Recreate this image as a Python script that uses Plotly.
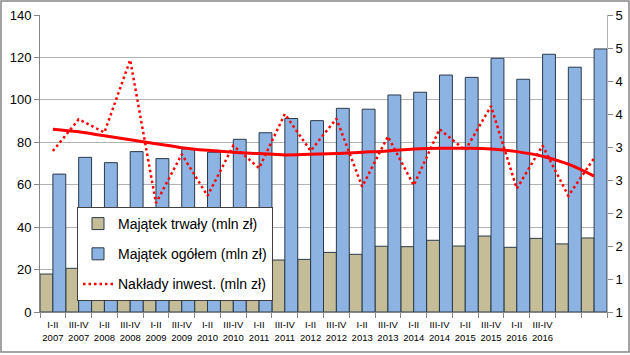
import plotly.graph_objects as go

# ---- data ----
periods = ["I-II<br>2007", "III-IV<br>2007", "I-II<br>2008", "III-IV<br>2008",
           "I-II<br>2009", "III-IV<br>2009", "I-II<br>2010", "III-IV<br>2010",
           "I-II<br>2011", "III-IV<br>2011", "I-II<br>2012", "III-IV<br>2012",
           "I-II<br>2013", "III-IV<br>2013", "I-II<br>2014", "III-IV<br>2014",
           "I-II<br>2015", "III-IV<br>2015", "I-II<br>2016", "III-IV<br>2016",
           "I-II<br>2017", "III-IV<br>2017"]
tick_text = periods[:20] + ["", ""]

majatek_trwaly = [17.9, 20.6, 19.8, 21.5, 20.5, 22.0, 21.0, 22.5, 23.5, 24.5, 24.8,
                  28.1, 27.2, 31.0, 30.8, 33.8, 31.1, 35.8, 30.5, 34.7, 32.1, 34.9]
majatek_ogolem = [65.0, 72.9, 70.4, 75.6, 72.3, 76.9, 75.3, 81.4, 84.5, 91.2, 90.2,
                  96.0, 95.6, 102.3, 103.6, 111.7, 110.6, 119.6, 109.7, 121.5, 115.4, 124.0]
naklady = [3.44, 3.92, 3.72, 4.82, 2.65, 3.39, 2.76, 3.52, 3.18, 4.00, 3.44,
           3.93, 2.90, 3.66, 2.92, 3.77, 3.45, 4.12, 2.87, 3.52, 2.76, 3.33]
naklady_trend = [3.77, 3.73, 3.67, 3.61, 3.55, 3.49, 3.45, 3.42, 3.40, 3.38, 3.39,
                 3.40, 3.42, 3.44, 3.47, 3.48, 3.48, 3.47, 3.43, 3.36, 3.24, 3.06]

left_ticks = [0, 20, 40, 60, 80, 100, 120, 140]
right_ticks = [1.0, 1.5, 2.0, 2.5, 3.0, 3.5, 4.0, 4.5, 5.0, 5.5]
right_labels = ["1", "1", "2", "2", "3", "3", "4", "4", "5", "5"]

FONT = "Liberation Sans"
W, H = 630, 355
ML, MR, MT, MB = 40, 23, 15, 43
PW, PH = W - ML - MR, H - MT - MB

fig = go.Figure()
fig.add_trace(go.Bar(
    x=periods, y=majatek_trwaly, name="Majątek trwały (mln zł)",
    marker=dict(color="#C4BD97", line=dict(color="#2B3A4A", width=1)),
    legendgroup="a"))
fig.add_trace(go.Bar(
    x=periods, y=majatek_ogolem, name="Majątek ogółem (mln zł)",
    marker=dict(color="#8DB3E2", line=dict(color="#2B3A4A", width=1)),
    legendgroup="b"))
fig.add_trace(go.Scatter(
    x=periods, y=naklady, name="Nakłady inwest. (mln zł)", yaxis="y2",
    mode="lines", line=dict(color="#FF0000", width=2.5, dash="2.5px,3px"),
    legendgroup="c"))
fig.add_trace(go.Scatter(
    x=periods, y=naklady_trend, yaxis="y2", mode="lines", showlegend=False,
    line=dict(color="#FF0000", width=3, shape="spline")))

# outer chart border
def px_x(p):
    return (p - ML) / PW

def px_y(p):
    return (H - MB - p) / PH

fig.add_shape(type="rect", xref="paper", yref="paper",
              x0=px_x(1), x1=px_x(629), y0=px_y(352), y1=px_y(1),
              line=dict(color="#868686", width=1.5), layer="above")

fig.update_layout(
    width=W, height=H, autosize=False,
    margin=dict(l=ML, r=MR, t=MT, b=MB, pad=0),
    paper_bgcolor="white", plot_bgcolor="white",
    barmode="group", bargap=0, bargroupgap=0,
    font=dict(family=FONT, color="#000000", size=13),
    xaxis=dict(type="category", tickmode="array", tickvals=periods, ticktext=tick_text,
               tickson="boundaries", ticks="outside", ticklen=5, tickcolor="#868686",
               showline=True, linecolor="#868686", linewidth=1, showgrid=False,
               tickfont=dict(size=9.5, family=FONT), tickangle=0, automargin=False,
               ticklabelstandoff=4),
    yaxis=dict(range=[0, 140], tickvals=left_ticks, showgrid=True, gridcolor="#B3B3B3",
               gridwidth=1, showline=True, linecolor="#868686", ticks="outside",
               ticklen=5, tickcolor="#868686", tickfont=dict(size=13, family=FONT),
               zeroline=False, automargin=False),
    yaxis2=dict(range=[1, 5.5], tickmode="array", tickvals=right_ticks, ticktext=right_labels,
                overlaying="y", side="right", showgrid=False, showline=True,
                linecolor="#B3B3B3", ticks="outside", ticklen=5, tickcolor="#868686",
                tickfont=dict(size=13, family=FONT), zeroline=False, automargin=False),
    legend=dict(x=px_x(77), y=px_y(207), xanchor="left", yanchor="top",
                bgcolor="white", bordercolor="#404040", borderwidth=1,
                font=dict(size=14, family=FONT), tracegroupgap=9,
                traceorder="grouped"),
    showlegend=True,
)

fig.write_html("out.html", config={"displayModeBar": False, "staticPlot": True},
               post_script="document.body.style.margin='0';document.body.style.padding='0';document.body.style.overflow='hidden';")
